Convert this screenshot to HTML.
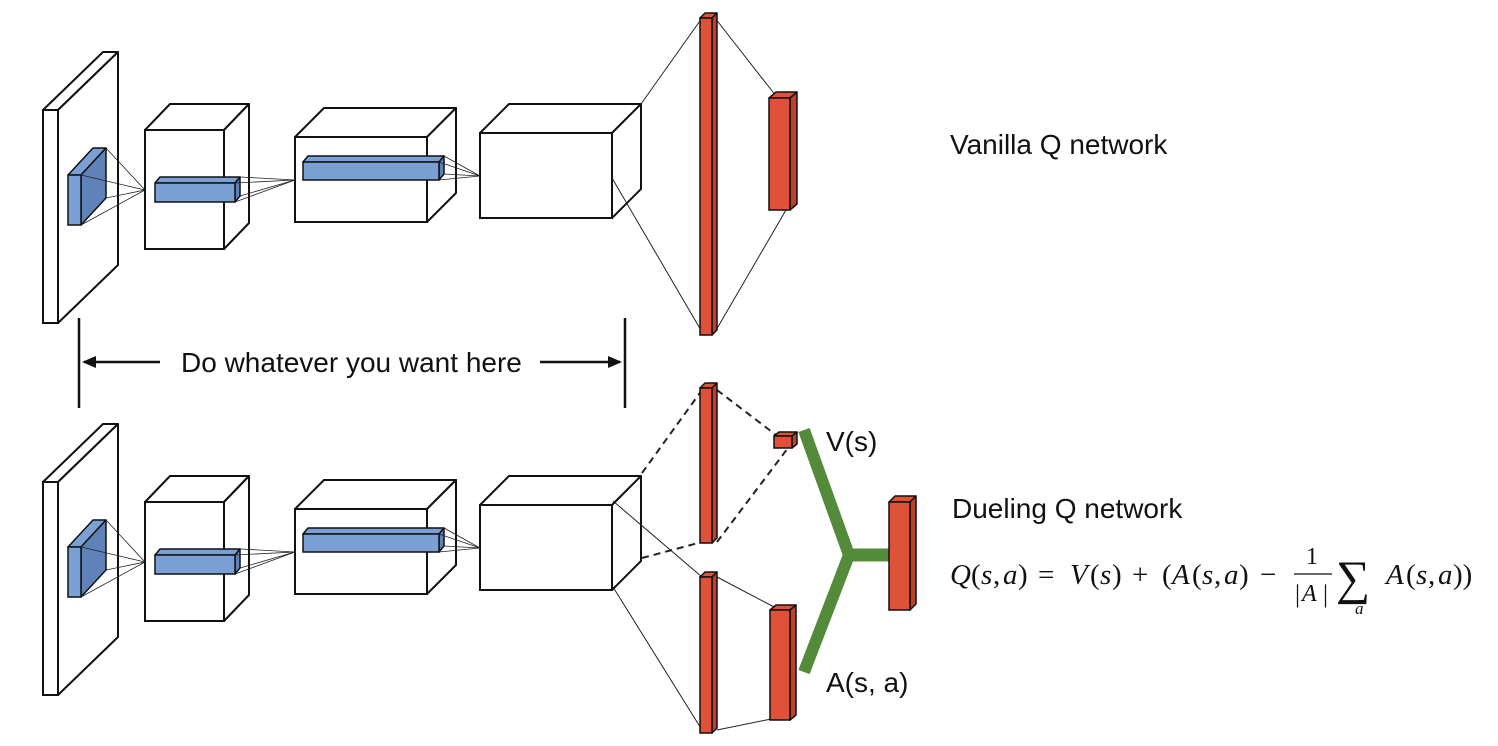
<!DOCTYPE html>
<html><head><meta charset="utf-8"><style>
html,body{margin:0;padding:0;background:#fff;}
svg{display:block;}
text.t{font-family:"Liberation Sans",sans-serif;fill:#111;font-size:28px;}
text.m{font-family:"Liberation Serif","DejaVu Serif",serif;font-size:29px;fill:#111;}
text.i{font-style:italic;}
</style></head><body>
<svg id="s" width="1498" height="746" viewBox="0 0 1498 746" xmlns="http://www.w3.org/2000/svg">
<g id="g"></g>
<text class="t" x="950" y="154">Vanilla Q network</text>
<text class="t" x="952" y="518">Dueling Q network</text>
<text class="t" x="826" y="451">V(s)</text>
<text class="t" x="826" y="692">A(s, a)</text>
<text class="t" x="181" y="372">Do whatever you want here</text>
<g stroke="#111" stroke-width="2.5" fill="none">
<line x1="79" y1="318" x2="79" y2="408"/><line x1="625" y1="318" x2="625" y2="408"/>
<line x1="84" y1="362" x2="160" y2="362"/><line x1="540" y1="362" x2="620" y2="362"/>
</g>
<polygon points="82,362 96,356 96,368" fill="#111"/>
<polygon points="622,362 608,356 608,368" fill="#111"/>
<text class="m i" x="950" y="584">Q</text>
<text class="m" x="971" y="584">(</text>
<text class="m i" x="981" y="584">s</text>
<text class="m" x="993" y="584">,</text>
<text class="m i" x="1003" y="584">a</text>
<text class="m" x="1018" y="584">)</text>
<text class="m" x="1038" y="584">=</text>
<text class="m i" x="1070" y="584">V</text>
<text class="m" x="1090" y="584">(</text>
<text class="m i" x="1100" y="584">s</text>
<text class="m" x="1112" y="584">)</text>
<text class="m" x="1132" y="584">+</text>
<text class="m" x="1162" y="584">(</text>
<text class="m i" x="1172" y="584">A</text>
<text class="m" x="1192" y="584">(</text>
<text class="m i" x="1202" y="584">s</text>
<text class="m" x="1214" y="584">,</text>
<text class="m i" x="1224" y="584">a</text>
<text class="m" x="1239" y="584">)</text>
<text class="m" x="1260" y="584">−</text>
<text class="m" x="1306" y="564" style="font-size:24px">1</text>
<line x1="1294" y1="574" x2="1332" y2="574" stroke="#111" stroke-width="1.3"/>
<text class="m" x="1295" y="602" style="font-size:25px">|</text>
<text class="m i" x="1302" y="601" style="font-size:24px">A</text>
<text class="m" x="1323" y="602" style="font-size:25px">|</text>
<text class="m" x="1336" y="594" style="font-size:48px">∑</text>
<text class="m i" x="1355" y="614" style="font-size:17px">a</text>
<text class="m i" x="1386" y="584">A</text>
<text class="m" x="1406" y="584">(</text>
<text class="m i" x="1416" y="584">s</text>
<text class="m" x="1428" y="584">,</text>
<text class="m i" x="1438" y="584">a</text>
<text class="m" x="1453" y="584">))</text>
</svg>
<script>
var g=document.getElementById('g'),NS="http://www.w3.org/2000/svg";
function el(t,a){var e=document.createElementNS(NS,t);for(var k in a)e.setAttribute(k,a[k]);g.appendChild(e);return e;}
function box(x1,y1,x2,y2,dx,dy,f,fs,sw){
 sw=sw||2;
 el('polygon',{points:[x1,y1,x1+dx,y1-dy,x2+dx,y1-dy,x2,y1].join(' '),fill:f,stroke:'#111','stroke-width':sw,'stroke-linejoin':'round'});
 el('polygon',{points:[x2,y1,x2+dx,y1-dy,x2+dx,y2-dy,x2,y2].join(' '),fill:fs,stroke:'#111','stroke-width':sw,'stroke-linejoin':'round'});
 el('rect',{x:x1,y:y1,width:x2-x1,height:y2-y1,fill:f,stroke:'#111','stroke-width':sw});
}
function ln(a,b,c,d,w,dash){var o={x1:a,y1:b,x2:c,y2:d,stroke:'#222','stroke-width':w||1};if(dash)o['stroke-dasharray']=dash;el('line',o);}
var B='#7aa0d4',BS='#5f82b8',R='#e0513a',RS='#c0402c',W='#fff';
function row(s){
 box(43,110+s,58,323+s,60,58,W,W);
 box(145,130+s,224,249+s,25,26,W,W);
 box(295,137+s,427,222+s,29,29,W,W);
 box(480,133+s,612,218+s,29,29,W,W);
 box(68,175+s,81,225+s,25,27,B,BS,1.5);
 [[106,148],[106,198],[81,175],[81,225]].forEach(function(p){ln(p[0],p[1]+s,145,190+s,0.8);});
 box(155,183+s,235,202+s,5,6,B,BS,1.5);
 [[240,177],[240,196],[235,183],[235,202]].forEach(function(p){ln(p[0],p[1]+s,295,180+s,0.8);});
 box(303,162+s,439,180+s,5,6,B,BS,1.5);
 [[444,156],[444,174],[439,162],[439,180]].forEach(function(p){ln(p[0],p[1]+s,480,176+s,0.8);});
}
row(0);row(372);
ln(641,104,702,18);ln(612,178,702,332);
ln(715,18,776,96);ln(715,332,786,210);
box(700,18,712,335,5,5,R,RS,1.5);
box(769,98,790,210,7,6,R,RS,1.5);
ln(642,473,702,390,2,'7,5');ln(642,558,702,542,2,'7,5');
ln(717,390,776,435,2,'7,5');ln(717,542,788,448,2,'7,5');
ln(613,501,702,577);ln(613,587,702,730);
ln(717,577,776,608);ln(717,730,776,718);
box(700,388,712,543,5,5,R,RS,1.5);
box(774,436,792,448,5,4,R,RS,1.5);
box(700,577,712,733,5,5,R,RS,1.5);
box(770,610,790,720,6,5,R,RS,1.5);
el('polyline',{points:'804,430 849,555 804,672',fill:'none',stroke:'#548b3a','stroke-width':12,'stroke-linejoin':'miter'});
el('line',{x1:845,y1:555,x2:890,y2:555,stroke:'#548b3a','stroke-width':13});
box(889,502,910,610,6,6,R,RS,1.5);
</script>
</body></html>
